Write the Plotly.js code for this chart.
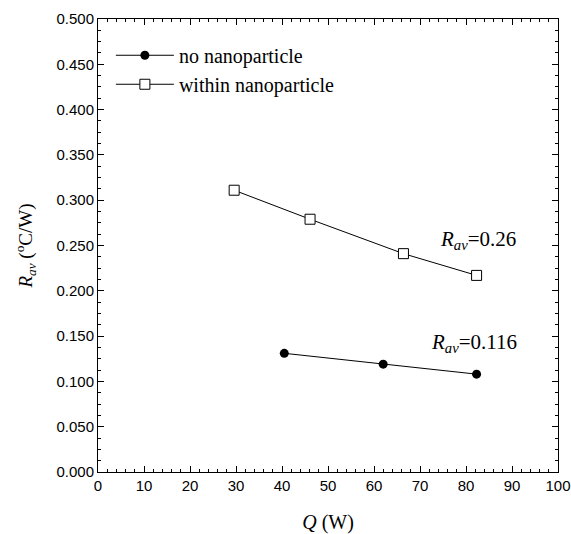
<!DOCTYPE html>
<html><head><meta charset="utf-8">
<script src="https://cdn.plot.ly/plotly-3.0.1.min.js"></script>
<style>html,body{margin:0;padding:0;background:#fff}</style>
</head><body><div id="c" style="width:571px;height:534px"></div>
<script>
const noNanoQ = [40.5, 62.0, 82.3];
const noNanoR = [0.131, 0.119, 0.108];
const withNanoQ = [29.6, 46.1, 66.4, 82.3];
const withNanoR = [0.311, 0.279, 0.241, 0.217];
const yTicks = [0,0.05,0.1,0.15,0.2,0.25,0.3,0.35,0.4,0.45,0.5];
const yTickText = yTicks.map(v => v.toFixed(3));
const serif = "Liberation Serif, Times New Roman, serif";
const sans = "Liberation Sans, Arial, sans-serif";
const traces = [
 {x: noNanoQ, y: noNanoR, name: 'no nanoparticle', mode: 'lines+markers', type: 'scatter',
  line: {color: '#000', width: 1}, marker: {symbol: 'circle', size: 9, color: '#000'}},
 {x: withNanoQ, y: withNanoR, name: 'within nanoparticle', mode: 'lines+markers', type: 'scatter',
  line: {color: '#000', width: 1}, marker: {symbol: 'square', size: 10, color: '#fff', line: {width: 1, color: '#000'}}}
];
const axCommon = {showgrid: false, zeroline: false, showline: true, linecolor: '#000', linewidth: 1,
  mirror: 'ticks', ticks: 'inside', ticklen: 6, tickcolor: '#000', tickwidth: 1,
  tickfont: {family: sans, size: 15, color: '#000'}};
const layout = {
  width: 571, height: 534,
  margin: {l: 98, r: 13, t: 19, b: 62},
  paper_bgcolor: '#fff', plot_bgcolor: '#fff',
  showlegend: true,
  legend: {x: 0.028, y: 0.963, xanchor: 'left', yanchor: 'top', bgcolor: 'rgba(0,0,0,0)',
    itemwidth: 58,
    font: {family: serif, size: 20, color: '#000'}, tracegroupgap: 0},
  xaxis: Object.assign({}, axCommon, {range: [0, 100], tickmode: 'linear', tick0: 0, dtick: 10,
    minor: {dtick: 2, ticks: 'inside', ticklen: 3, tickcolor: '#000'},
    title: {text: '<i>Q</i> (W)', font: {family: serif, size: 20, color: '#000'}, standoff: 22}}),
  yaxis: Object.assign({}, axCommon, {range: [0, 0.5], tickmode: 'array', tickvals: yTicks, ticktext: yTickText,
    minor: {dtick: 0.0125, tick0: 0, ticks: 'inside', ticklen: 3, tickcolor: '#000'},
    title: {text: '<i>R<sub>av</sub></i> (<sup>o</sup>C/W)', font: {family: serif, size: 19, color: '#000'}, standoff: 18}}),
  annotations: [
    {x: 82.6, y: 0.256, xref: 'x', yref: 'y', text: '<i>R<sub>av</sub></i>=0.26', showarrow: false,
     font: {family: serif, size: 21, color: '#000'}},
    {x: 81.8, y: 0.142, xref: 'x', yref: 'y', text: '<i>R<sub>av</sub></i>=0.116', showarrow: false,
     font: {family: serif, size: 21, color: '#000'}}
  ]
};
Plotly.newPlot('c', traces, layout, {displayModeBar: false, staticPlot: true});
</script></body></html>
